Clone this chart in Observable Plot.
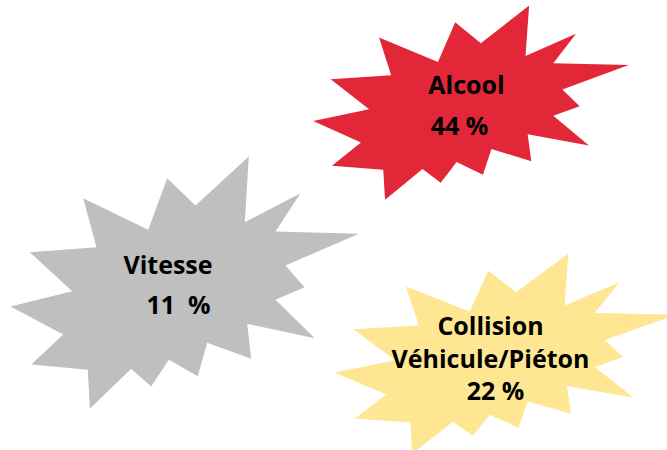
<!DOCTYPE html>
<html>
<head>
<meta charset="utf-8">
<script src="https://cdn.jsdelivr.net/npm/d3@7"></script>
<script src="https://cdn.jsdelivr.net/npm/@observablehq/plot@0.6"></script>
<style>
  html, body { margin: 0; padding: 0; background: #ffffff; }
  #chart svg { display: block; }
</style>
</head>
<body>
<div id="chart"></div>
<script>
// ---- Data ----
const categories = ["Alcool", "Vitesse", "Collision Véhicule/Piéton"];
const nameLabels = ["Alcool", "Vitesse", "Collision\nVéhicule/Piéton"];
const values = [44, 11, 22];
const valueLabels = ["44 %", "11\u00a0\u00a0%", "22 %"];
const colors = ["#E22738", "#BFBFBF", "#FEE692"];

// ---- Layout (pixel space of the 667x450 canvas) ----
const boxes = {
  "Alcool":                    {x0: 312.7, y0: 5,   w: 315.6, h: 194.3},
  "Vitesse":                   {x0: 10,    y0: 156, w: 348.3, h: 252.3},
  "Collision Véhicule/Piéton": {x0: 334,   y0: 253, w: 342,   h: 200}
};
const labelPos = {
  "Alcool":                    {nx: 466,   ny: 93.5, vx: 459,   vy: 134,  gap: 33.5},
  "Vitesse":                   {nx: 167.5, ny: 273,  vx: 178,   vy: 313,  gap: 33.5},
  "Collision Véhicule/Piéton": {nx: 490,   ny: 367.5, vx: 495,  vy: 399,  gap: 33.5}
};

// Explosion outline ("irregular seal") traced once, normalised to its bounding box
const outlineTrace = [
  [248.3,156],[244.3,221.7],[300,192.7],[275,231],[358.3,233.3],[285,265],
  [304,286.7],[275,299.3],[314.3,337.7],[246.7,323.3],[250.7,358.3],[206.7,342.3],
  [197.3,375.7],[168.3,359.3],[150.7,386],[130.7,368.3],[89.3,408.3],[87.3,369.3],
  [30.7,364],[62.7,334],[10,306],[71.7,290.7],[29.3,251.7],[96,246.7],
  [82.7,197.7],[147.7,229.3],[166.7,177.7],[195,205]
];
const ox = d3.extent(outlineTrace, d => d[0]);
const oy = d3.extent(outlineTrace, d => d[1]);
const outline = outlineTrace.map(([x, y]) => [(x - ox[0]) / (ox[1] - ox[0]), (y - oy[0]) / (oy[1] - oy[0])]);

// Build polygons
const points = [];
categories.forEach((c, i) => {
  const b = boxes[c];
  outline.forEach(([u, v]) => points.push({cat: c, x: b.x0 + u * b.w, y: b.y0 + v * b.h}));
});

// Build text rows
const textRows = [];
categories.forEach((c, i) => {
  const p = labelPos[c];
  const lines = nameLabels[i].split("\n");
  lines.forEach((t, j) => textRows.push({text: t, x: p.nx, y: p.ny - (lines.length - 1 - j) * p.gap}));
  textRows.push({text: valueLabels[i], x: p.vx, y: p.vy, value: values[i]});
});

const chart = Plot.plot({
  width: 667,
  height: 450,
  margin: 0,
  style: {background: "#ffffff", overflow: "hidden"},
  x: {domain: [0, 667], range: [0, 667], axis: null},
  y: {domain: [0, 450], range: [0, 450], axis: null},
  color: {domain: categories, range: colors},
  marks: [
    Plot.line(points, {x: "x", y: "y", z: "cat", fill: "cat", stroke: "none", curve: "linear-closed"}),
    Plot.text(textRows, {
      x: "x", y: "y", text: "text",
      fill: "#000000",
      fontSize: 25,
      fontWeight: 700,
      fontFamily: "Open Sans",
      textAnchor: "middle",
      lineAnchor: "bottom"
    })
  ]
});
document.getElementById("chart").appendChild(chart);
</script>
</body>
</html>
